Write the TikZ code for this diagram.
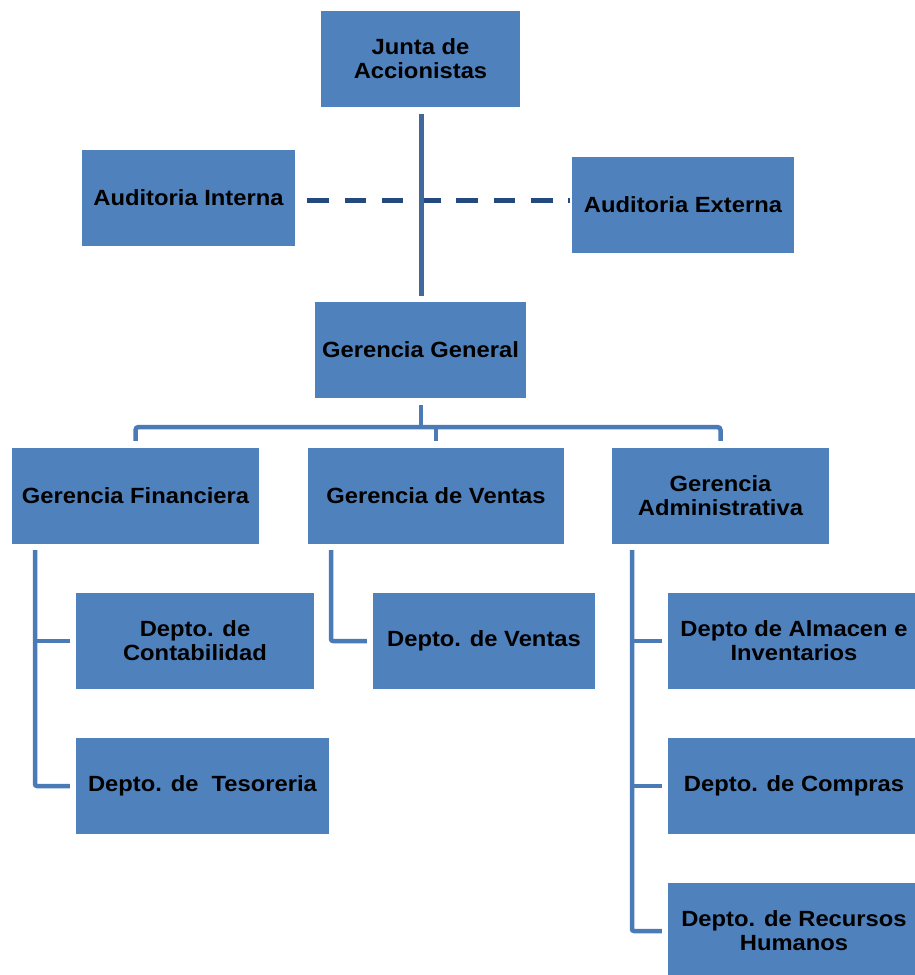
\documentclass[tikz,border=0pt]{standalone}
\usepackage{fontspec}
\setmainfont{Liberation Sans}[FakeStretch=1.08]
\usepackage{xcolor}

\definecolor{boxblue}{HTML}{4F81BD}
\definecolor{linkblue}{HTML}{4A7BB7}
\definecolor{trunkblue}{HTML}{41689C}
\definecolor{dashblue}{HTML}{24497E}

\begin{document}
\begin{tikzpicture}[x=1pt, y=-1pt,
    unit/.style={rectangle, fill=boxblue, inner sep=2pt, minimum height=96pt, align=center,
        font=\bfseries\fontsize{22}{24}\selectfont},
    link/.style={draw=linkblue, line width=4.5pt},
    trunk/.style={draw=trunkblue, line width=5pt},
    audit/.style={draw=dashblue, line width=5pt, dash pattern=on 21.5pt off 15.8pt}]
        \clip (0,0) rectangle (915,975);

        % direccion
        \node[unit, minimum width=199pt] (JA) at (420.5, 59) {Junta de\\Accionistas};
        \node[unit, minimum width=213pt] (AI) at (188.5, 198) {Auditoria Interna};
        \node[unit, minimum width=222pt] (AE) at (683, 204.5) {Auditoria Externa};
        \node[unit, minimum width=211pt] (GG) at (420.5, 350) {Gerencia General};

        % gerencias
        \node[unit, minimum width=247pt] (GF) at (135.5, 496) {Gerencia Financiera};
        \node[unit, minimum width=256pt] (GV) at (436, 496) {Gerencia de Ventas};
        \node[unit, minimum width=217pt] (GA) at (720.5, 496) {Gerencia\\Administrativa};

        % departamentos
        \node[unit, minimum width=238pt] (DC) at (195, 641) {Depto. de\\Contabilidad};
        \node[unit, minimum width=253pt] (DT) at (202.5, 786) {Depto. de\ \ Tesoreria};
        \node[unit, minimum width=222pt] (DV) at (484, 641) {Depto. de Ventas};
        \node[unit, minimum width=252pt] (DA) at (794, 641) {Depto de Almacen e\\Inventarios};
        \node[unit, minimum width=252pt] (DP) at (794, 786) {Depto. de Compras};
        \node[unit, minimum width=252pt] (DR) at (794, 931) {Depto. de Recursos\\Humanos};

        \draw[audit, shorten >=2pt] ([xshift=12pt, yshift=-2pt]AI.east) coordinate (ds) -- (AE.west |- ds);
        \draw[trunk] ([xshift=0.5pt, yshift=-7pt]JA.south) -- ([xshift=0.5pt, yshift=6pt]GG.north);

        \coordinate (fork) at (421, 427);
        \draw[link] ([xshift=0.5pt, yshift=-7pt]GG.south) -- (fork);
        \draw[link, rounded corners=3pt] ([yshift=7pt]GF.north) |- (fork) -| ([yshift=7pt]GA.north);
        \draw[link] (fork -| GV.north) -- ([yshift=7pt]GV.north);

        \draw[link, rounded corners=2pt] ([xshift=-100.5pt, yshift=-6pt]GF.south) |- ([xshift=-6pt]DT.west);
        \draw[link] ([xshift=-6pt]DC.west) -- ++(-35, 0);
        \draw[link, rounded corners=2pt] ([xshift=-105pt, yshift=-6pt]GV.south) |- ([xshift=-6pt]DV.west);
        \draw[link, rounded corners=2pt] ([xshift=-88.5pt, yshift=-6pt]GA.south) |- ([xshift=-6pt]DR.west);
        \draw[link] ([xshift=-6pt]DA.west) -- ++(-30, 0);
        \draw[link] ([xshift=-6pt]DP.west) -- ++(-30, 0);
    \end{tikzpicture}
\end{document}
